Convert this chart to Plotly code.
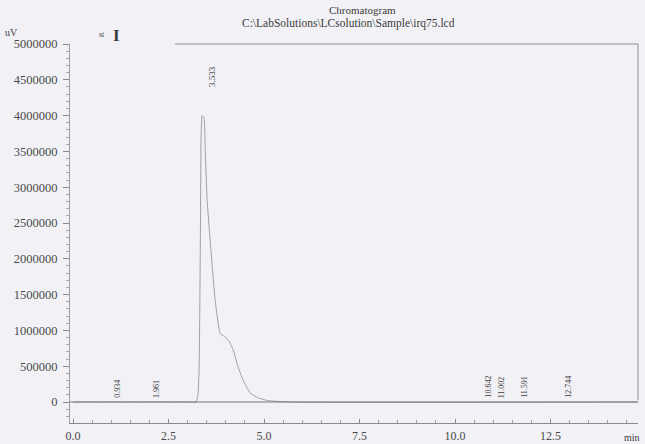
import plotly.graph_objects as go

# Chromatogram trace (time in min, signal in uV)
time_min = [0.0, 3.00, 3.22, 3.27, 3.30, 3.32, 3.34, 3.35, 3.38, 3.43, 3.46, 3.51, 3.61,
            3.72, 3.85, 3.95, 4.06, 4.19, 4.32, 4.45, 4.63, 4.84, 5.10, 5.68, 14.79]
signal_uv = [0, 0, 0, 100000, 450000, 1420000, 2820000, 3660000, 4000000, 3970000, 3520000,
             2820000, 2120000, 1420000, 960000, 920000, 870000, 730000, 490000, 310000,
             130000, 60000, 20000, 0, 0]

# Peak retention-time labels
peak_times = [0.934, 1.961, 3.533, 10.642, 11.002, 11.591, 12.744]
peak_labels = ["0.934", "1.961", "3.533", "10.642", "11.002", "11.591", "12.744"]
peak_label_y = [0, 0, 4000000, 0, 0, 0, 0]

y_ticks = [0, 500000, 1000000, 1500000, 2000000, 2500000, 3000000, 3500000,
           4000000, 4500000, 5000000]
x_ticks = [0.0, 2.5, 5.0, 7.5, 10.0, 12.5]

serif = "Liberation Serif, serif"
ink = "#3a3a3a"
line_grey = "#8a8a8a"

W, H = 645, 444
L, R, T, B = 70, 7, 44, 21
pw, ph = W - L - R, H - T - B


def px(xp):
    return (xp - L) / pw


def py(yp):
    return (H - B - yp) / ph


fig = go.Figure()
fig.add_trace(go.Scatter(x=time_min, y=signal_uv, mode="lines", line_shape="spline",
                         line=dict(color="#a0a0a0", width=1, smoothing=0.4),
                         hoverinfo="skip", showlegend=False))

# baseline zero line
fig.add_shape(type="line", xref="paper", yref="y", x0=0, x1=1, y0=0, y1=0,
              line=dict(color="#777777", width=1.2))
# partial top frame and right frame
fig.add_shape(type="line", xref="x", yref="paper", x0=2.67, x1=14.79, y0=1.0, y1=1.0,
              line=dict(color="#8c8c8c", width=1))
fig.add_shape(type="line", xref="paper", yref="paper", x0=1.0, x1=1.0, y0=0.06, y1=1.0,
              line=dict(color="#8c8c8c", width=1))

annotations = []
for t, lab, yv in zip(peak_times, peak_labels, peak_label_y):
    big = lab == "3.533"
    annotations.append(dict(
        x=t, y=yv, xref="x", yref="y", text=lab, showarrow=False,
        textangle=-90, xanchor="center", yanchor="bottom",
        xshift=4 if big else 8, yshift=26 if big else 2,
        font=dict(family=serif, size=9 if big else 8, color=ink)))

extra = [
    dict(x=px(362), y=py(10), text="Chromatogram", size=11),
    dict(x=px(348), y=py(24), text="C:\\LabSolutions\\LCsolution\\Sample\\irq75.lcd", size=11.5),
    dict(x=px(11), y=py(33), text="uV", size=10),
    dict(x=px(102), y=py(34), text="st", size=8),
    dict(x=px(116), y=py(36), text="<b>I</b>", size=17),
    dict(x=px(632), y=py(437), text="min", size=10),
]
for e in extra:
    annotations.append(dict(x=e["x"], y=e["y"], xref="paper", yref="paper", text=e["text"],
                            showarrow=False, xanchor="center", yanchor="middle",
                            font=dict(family=serif, size=e["size"], color=ink)))

fig.update_layout(
    width=W, height=H,
    margin=dict(l=L, r=R, t=T, b=B),
    paper_bgcolor="#f2f2f6",
    plot_bgcolor="#f2f2f6",
    showlegend=False,
    annotations=annotations,
    xaxis=dict(range=[-0.08, 14.79], tickvals=x_ticks, ticktext=[f"{v:.1f}" for v in x_ticks],
               automargin=False,
               showgrid=False, zeroline=False, showline=True, linecolor=line_grey, linewidth=1,
               ticks="inside", ticklen=4, tickcolor=line_grey, ticklabelstandoff=2,
               minor=dict(dtick=0.5, ticks="inside", ticklen=3, tickcolor="#a0a0a0"),
               tickfont=dict(family=serif, size=12, color="#4a4a4a")),
    yaxis=dict(range=[-293000, 5000000], tickvals=y_ticks, ticktext=[str(v) for v in y_ticks],
               automargin=False,
               showgrid=False, zeroline=False, showline=True, linecolor="#a0a0a0", linewidth=1,
               ticks="outside", ticklen=6, tickcolor=line_grey, ticklabelstandoff=3,
               minor=dict(dtick=100000, ticks="outside", ticklen=3, tickcolor="#a8a8a8"),
               tickfont=dict(family=serif, size=12.5, color="#4a4a4a")),
)

fig.write_html("out.html")
